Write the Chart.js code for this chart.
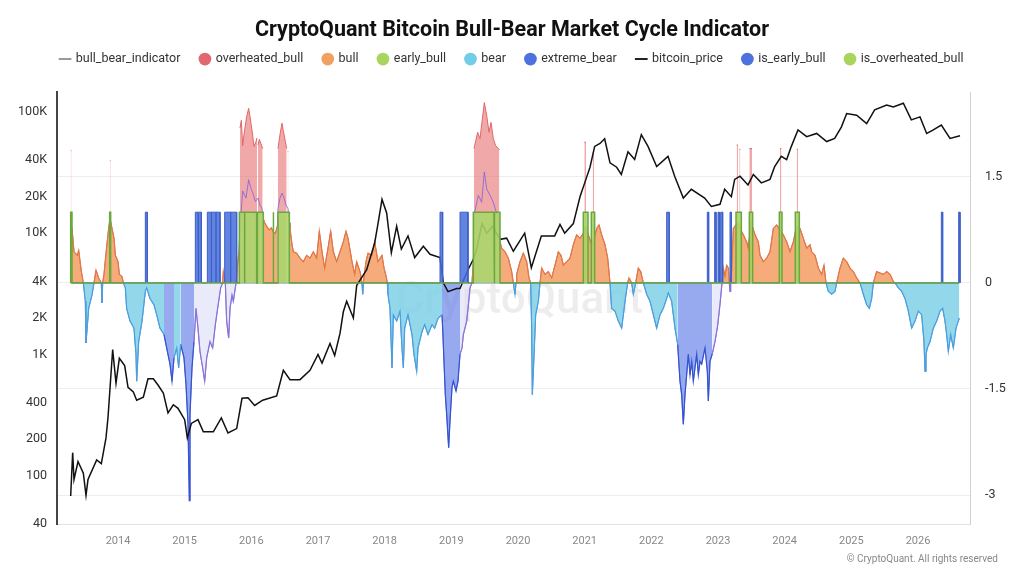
<!DOCTYPE html>
<html>
<head>
<meta charset="utf-8">
<script src="https://cdn.jsdelivr.net/npm/chart.js@4.4.0/dist/chart.umd.min.js"></script>
<style>
html,body{margin:0;padding:0;background:#fff;}
#wrap{width:1024px;height:576px;position:relative;}
</style>
</head>
<body>
<div id="wrap"><canvas id="c" width="1024" height="576"></canvas></div>
<script>
// ---------------- DATA ----------------
const titleText = 'CryptoQuant Bitcoin Bull-Bear Market Cycle Indicator';
const yearTicks = [2014,2015,2016,2017,2018,2019,2020,2021,2022,2023,2024,2025,2026];
const priceTicks = [40,100,200,400,1000,2000,4000,10000,20000,40000,100000];
const priceTickLabels = ['40','100','200','400','1K','2K','4K','10K','20K','40K','100K'];
const indicatorTicks = [-3,-1.5,0,1.5];

// bitcoin price (left, log axis)
const priceYears = [2013.29,2013.32,2013.34,2013.40,2013.48,2013.52,2013.55,2013.68,2013.75,2013.82,
  2013.85,2013.92,2013.97,2014.02,2014.10,2014.15,2014.23,2014.28,2014.38,2014.45,
  2014.53,2014.60,2014.68,2014.75,2014.83,2014.90,2015.00,2015.04,2015.10,2015.20,
  2015.28,2015.43,2015.55,2015.65,2015.78,2015.86,2015.95,2016.05,2016.17,2016.38,
  2016.48,2016.58,2016.73,2016.88,2017.00,2017.06,2017.18,2017.25,2017.33,2017.38,
  2017.43,2017.53,2017.58,2017.73,2017.85,2017.90,2017.96,2018.03,2018.10,2018.18,
  2018.25,2018.35,2018.45,2018.58,2018.68,2018.83,2018.88,2018.95,2019.08,2019.13,
  2019.25,2019.33,2019.38,2019.46,2019.53,2019.62,2019.73,2019.83,2019.93,2020.10,
  2020.20,2020.35,2020.55,2020.63,2020.70,2020.83,2020.93,2021.03,2021.08,2021.15,
  2021.23,2021.30,2021.38,2021.48,2021.55,2021.65,2021.75,2021.85,2021.95,2022.08,
  2022.25,2022.35,2022.48,2022.60,2022.80,2022.90,2023.03,2023.10,2023.20,2023.25,
  2023.33,2023.45,2023.53,2023.65,2023.78,2023.85,2023.95,2024.03,2024.10,2024.20,
  2024.33,2024.48,2024.63,2024.75,2024.85,2024.93,2025.08,2025.23,2025.35,2025.53,
  2025.63,2025.78,2025.90,2026.03,2026.13,2026.23,2026.35,2026.48,2026.63];
const priceValues = [68,155,93,131,105,69,93,135,126,205,
  302,1100,580,930,810,535,490,420,445,630,
  630,560,480,330,385,360,290,205,270,290,
  230,230,300,225,245,435,440,380,420,455,
  740,620,620,740,1000,850,1230,980,1490,2250,
  2750,2000,3700,5000,8300,12000,19000,14700,6900,11400,
  7400,9500,6300,7800,6700,6300,3900,3300,3500,3500,
  5000,6100,7400,12000,10000,11400,8900,9100,7100,10000,
  5200,9500,9500,11800,10000,12000,20000,29000,35000,52000,
  55000,60000,38000,35000,30500,47000,40500,65000,52000,35500,
  43000,29500,19500,23000,19500,16600,17300,23000,20000,27800,
  29500,25000,30500,26000,27800,35500,43000,40500,52000,71000,
  62500,66500,57000,60500,75000,97000,94000,80000,104000,114000,
  110000,118000,86000,91000,66500,71000,78000,60500,63500];

// bull-bear indicator (right axis)
const indYears = [2013.29,2013.31,2013.34,2013.39,2013.41,2013.45,2013.48,2013.51,2013.52,2013.56,
  2013.61,2013.64,2013.67,2013.71,2013.75,2013.76,2013.77,2013.79,2013.82,2013.86,
  2013.88,2013.91,2013.94,2013.96,2014.00,2014.02,2014.06,2014.08,2014.11,2014.13,
  2014.18,2014.24,2014.27,2014.28,2014.31,2014.36,2014.41,2014.43,2014.48,2014.54,
  2014.58,2014.63,2014.69,2014.73,2014.78,2014.81,2014.84,2014.88,2014.91,2014.94,
  2014.99,2015.02,2015.05,2015.07,2015.08,2015.11,2015.14,2015.17,2015.20,2015.23,
  2015.27,2015.30,2015.33,2015.38,2015.42,2015.46,2015.51,2015.54,2015.57,2015.58,
  2015.61,2015.63,2015.66,2015.68,2015.71,2015.73,2015.77,2015.81,2015.84,2015.87,
  2015.92,2015.96,2015.99,2016.03,2016.06,2016.10,2016.13,2016.16,2016.18,2016.20,
  2016.23,2016.27,2016.30,2016.33,2016.36,2016.39,2016.40,2016.43,2016.46,2016.49,
  2016.52,2016.55,2016.57,2016.58,2016.61,2016.63,2016.68,2016.73,2016.78,2016.83,
  2016.88,2016.93,2016.98,2017.02,2017.06,2017.10,2017.15,2017.19,2017.23,2017.28,
  2017.33,2017.38,2017.42,2017.45,2017.51,2017.55,2017.58,2017.63,2017.66,2017.67,
  2017.68,2017.72,2017.75,2017.81,2017.85,2017.90,2017.96,2017.99,2018.02,2018.04,
  2018.05,2018.08,2018.11,2018.13,2018.18,2018.23,2018.26,2018.28,2018.30,2018.35,
  2018.41,2018.44,2018.48,2018.50,2018.56,2018.60,2018.65,2018.71,2018.75,2018.80,
  2018.86,2018.87,2018.91,2018.93,2018.96,2018.98,2019.01,2019.03,2019.07,2019.10,
  2019.13,2019.16,2019.18,2019.23,2019.25,2019.28,2019.31,2019.33,2019.35,2019.405,
  2019.455,2019.495,2019.53,2019.58,2019.63,2019.68,2019.715,2019.73,2019.755,2019.805,
  2019.855,2019.905,2019.93,2019.955,2019.97,2019.98,2020.03,2020.08,2020.13,2020.165,
  2020.19,2020.205,2020.215,2020.245,2020.265,2020.305,2020.33,2020.355,2020.405,2020.455,
  2020.505,2020.555,2020.605,2020.645,2020.68,2020.73,2020.78,2020.83,2020.88,2020.93,
  2020.98,2021.015,2021.055,2021.105,2021.135,2021.18,2021.215,2021.255,2021.305,2021.345,
  2021.38,2021.405,2021.455,2021.505,2021.555,2021.605,2021.645,2021.665,2021.705,2021.73,
  2021.765,2021.805,2021.84,2021.88,2021.93,2021.98,2022.03,2022.08,2022.13,2022.18,
  2022.23,2022.255,2022.305,2022.355,2022.395,2022.43,2022.455,2022.48,2022.505,2022.53,
  2022.555,2022.58,2022.605,2022.63,2022.655,2022.68,2022.705,2022.73,2022.755,2022.805,
  2022.84,2022.855,2022.88,2022.915,2022.955,2022.995,2023.03,2023.06,2023.08,2023.105,
  2023.13,2023.155,2023.17,2023.18,2023.19,2023.205,2023.23,2023.27,2023.305,2023.33,
  2023.38,2023.43,2023.455,2023.495,2023.555,2023.605,2023.63,2023.68,2023.73,2023.78,
  2023.83,2023.88,2023.93,2023.98,2024.03,2024.08,2024.13,2024.17,2024.205,2024.23,
  2024.28,2024.33,2024.38,2024.405,2024.455,2024.505,2024.555,2024.59,2024.62,2024.655,
  2024.705,2024.755,2024.78,2024.83,2024.88,2024.93,2024.98,2025.03,2025.08,2025.13,
  2025.18,2025.23,2025.27,2025.305,2025.33,2025.38,2025.43,2025.48,2025.53,2025.58,
  2025.63,2025.655,2025.705,2025.755,2025.805,2025.855,2025.905,2025.955,2026.005,2026.055,
  2026.09,2026.105,2026.12,2026.14,2026.18,2026.23,2026.28,2026.33,2026.37,2026.405,
  2026.43,2026.455,2026.49,2026.53,2026.57,2026.605,2026.62];
const indValues = [0.85,0.77,0.44,0.39,0.46,0.16,0.00,-0.26,-0.85,-0.36,
  -0.17,0.00,0.18,0.07,0.00,-0.28,0.00,0.12,0.42,0.77,
  0.91,0.77,0.63,0.39,0.30,0.12,0.09,0.00,-0.07,-0.36,
  -0.54,-0.64,-1.01,-1.39,-0.83,-0.54,-0.12,-0.07,-0.22,-0.31,
  -0.45,-0.64,-0.73,-0.92,-1.15,-1.39,-1.06,-0.92,-1.20,-0.87,
  -1.06,-1.44,-2.00,-3.08,-1.86,-1.20,-0.83,-0.36,-0.64,-0.97,
  -1.20,-1.39,-1.06,-0.83,-0.92,-0.59,-0.26,-0.07,0.00,0.16,
  0.00,-0.54,-0.78,-0.36,-0.17,-0.26,0.00,0.42,0.90,1.30,
  1.20,1.46,1.35,1.25,1.15,1.20,1.10,1.05,0.90,0.85,
  0.80,0.75,0.78,0.72,0.70,0.80,1.05,1.20,1.27,1.20,
  1.10,1.05,0.85,0.77,0.54,0.44,0.42,0.35,0.30,0.39,
  0.35,0.44,0.35,0.73,0.44,0.21,0.49,0.73,0.44,0.30,
  0.44,0.58,0.73,0.63,0.30,0.12,0.30,0.16,0.00,-0.16,
  0.00,0.30,0.42,0.39,0.58,0.30,0.39,0.21,0.10,0.00,
  -0.16,-0.36,-1.20,-0.45,-0.54,-0.40,-0.92,-1.20,-0.64,-0.45,
  -0.73,-1.01,-1.25,-0.92,-0.69,-0.59,-0.73,-0.59,-0.64,-0.50,
  -0.45,-0.64,-1.58,-1.86,-2.33,-1.95,-1.48,-1.39,-1.53,-1.39,
  -1.01,-0.92,-0.73,-0.54,-0.36,-0.07,0.00,0.30,1.00,1.24,
  1.14,1.57,1.33,1.24,1.14,0.98,0.90,0.58,0.49,0.44,
  0.35,0.16,0.00,-0.16,0.00,0.12,0.30,0.42,0.30,0.07,
  0.00,-0.64,-1.58,-0.92,-0.45,-0.26,0.00,0.21,0.12,0.16,
  0.07,0.25,0.44,0.39,0.25,0.30,0.35,0.54,0.68,0.63,
  0.70,0.80,0.68,0.54,0.60,0.77,0.82,0.68,0.54,0.35,
  0.00,-0.36,-0.40,-0.54,-0.64,-0.26,0.00,0.07,0.00,-0.16,
  0.00,0.21,0.16,0.00,-0.16,-0.26,-0.45,-0.64,-0.45,-0.36,
  -0.22,-0.14,-0.26,-0.64,-0.87,-1.39,-1.58,-2.00,-1.58,-1.30,
  -1.01,-1.30,-1.11,-1.39,-1.20,-1.01,-1.30,-1.11,-1.15,-0.92,
  -1.25,-1.67,-1.11,-1.00,-0.83,-0.60,-0.30,0.00,0.21,0.09,
  0.25,0.21,0.00,-0.12,0.00,0.16,0.77,0.82,0.85,0.77,
  0.68,0.58,0.49,0.86,0.68,0.58,0.39,0.30,0.35,0.44,
  0.77,0.82,0.75,0.68,0.58,0.44,0.58,0.77,0.80,0.77,
  0.63,0.49,0.54,0.44,0.39,0.21,0.12,0.25,0.00,-0.12,
  -0.16,-0.12,0.00,0.21,0.35,0.30,0.21,0.16,0.07,0.00,
  -0.16,-0.31,-0.36,-0.22,0.00,0.16,0.14,0.12,0.16,0.12,
  0.02,0.00,-0.07,-0.12,-0.22,-0.40,-0.64,-0.54,-0.40,-0.45,
  -0.83,-1.25,-1.01,-0.92,-0.83,-0.64,-0.54,-0.40,-0.36,-0.54,
  -0.73,-0.97,-0.73,-0.92,-0.64,-0.54,-0.50];

// regime changes: [start year, regime]  b=bull, o=overheated, r=bear, x=extreme bear, p=early bull
const regimeStarts = [[2013.0,'b'],[2013.50,'r'],[2013.65,'b'],[2013.755,'r'],[2013.765,'b'],
  [2014.10,'r'],[2014.72,'x'],[2014.86,'r'],[2014.97,'x'],[2015.16,'p'],[2015.565,'b'],
  [2015.60,'p'],[2015.76,'b'],[2015.835,'o'],[2016.17,'b'],[2016.395,'o'],[2016.565,'b'],
  [2017.665,'r'],[2017.675,'b'],[2018.045,'r'],[2018.865,'x'],[2019.15,'p'],[2019.30,'b'],
  [2019.345,'o'],[2019.72,'b'],[2019.95,'r'],[2019.965,'b'],[2020.20,'r'],[2020.34,'b'],
  [2021.39,'r'],[2021.66,'b'],[2021.72,'r'],[2021.76,'b'],[2021.90,'r'],[2022.42,'x'],
  [2022.94,'p'],[2023.05,'b'],[2023.175,'p'],[2023.185,'b'],[2024.63,'r'],[2024.79,'b'],
  [2025.14,'r'],[2025.34,'b'],[2025.66,'r']];

// overheated_bull area (null separates blocks)
const ovhYears = [2013.292,2013.302,2013.302, 2013.878,2013.888,2013.888,
  2015.83,2015.85,2015.87,2015.90,2015.93,2015.96,2015.98,2016.01,2016.04,2016.07,2016.085,2016.085,
  2016.10,2016.12,2016.14,2016.17,2016.17, 2016.325,2016.335,2016.335,
  2016.40,2016.43,2016.46,2016.48,2016.51,2016.53,2016.53, 2016.545,2016.555,2016.555,
  2019.34,2019.395,2019.43,2019.465,2019.495,2019.53,2019.565,2019.595,2019.63,2019.665,2019.705,2019.72,2019.72,
  2020.995,2021.02,2021.02, 2021.12,2021.14,2021.14,
  2023.28,2023.30,2023.30, 2023.32,2023.335,2023.335, 2023.47,2023.51,2023.51,
  2023.93,2023.95,2023.95, 2024.18,2024.20];
const ovhValues = [1.87,1.87,null, 1.73,1.73,null,
  2.19,2.30,1.94,2.17,2.35,2.47,2.35,2.16,1.93,2.00,2.05,null,
  1.95,2.03,1.98,1.90,null, 1.60,1.60,null,
  1.90,2.10,2.26,2.15,2.00,1.90,null, 1.86,1.86,null,
  1.90,2.13,2.04,2.32,2.55,2.37,2.13,2.27,2.04,1.94,1.90,1.88,null,
  1.99,1.99,null, 1.84,1.84,null,
  1.95,1.95,null, 1.89,1.89,null, 1.90,1.90,null,
  1.90,1.90,null, 1.89,1.89];

// flag periods (value 1 inside)
const earlyBullFlags = [[2014.41,2014.44],[2015.16,2015.20],[2015.21,2015.25],[2015.34,2015.40],
  [2015.40,2015.47],[2015.47,2015.53],[2015.60,2015.69],[2015.69,2015.78],[2018.83,2018.87],
  [2019.13,2019.25],[2022.23,2022.27],[2022.84,2022.86],[2022.95,2022.97],[2023.00,2023.02],
  [2023.04,2023.07],[2023.18,2023.20],[2026.35,2026.37],[2026.61,2026.63]];
const overheatedFlags = [[2013.29,2013.31],[2013.875,2013.89],[2015.82,2015.90],[2015.90,2016.08],
  [2016.09,2016.18],[2016.325,2016.335],[2016.40,2016.57],[2019.33,2019.64],[2019.65,2019.73],
  [2020.98,2021.05],[2021.10,2021.15],[2023.27,2023.35],[2023.47,2023.52],[2023.92,2023.96],
  [2024.16,2024.22]];

// ---------------- BUILD ----------------
const xMin = 2013.085, xMax = 2026.78;
function regimeAt(y){ let c = 'b'; for (const [s, code] of regimeStarts){ if (y >= s) c = code; else break; } return c; }
const regimeCodes = indYears.map(regimeAt);
const NEG = {r:1, x:1, p:1};
function regimeSeries(code){
  return indYears.map((x, i) => {
    const c = regimeCodes[i], v = indValues[i];
    let use = c === code;
    if (!use && v === 0 && (regimeCodes[i-1] === code || regimeCodes[i+1] === code)) use = true;
    if (!use && NEG[code] && NEG[c] && regimeCodes[i+1] === code) use = true;
    return {x, y: use ? v : null};
  });
}
function flagSeries(periods){
  const first = Math.min(indYears[0], periods[0][0]);
  const last = Math.max(indYears[indYears.length-1], periods[periods.length-1][1]);
  const pts = [{x: first, y: 0}];
  periods.forEach(([s, e]) => { pts.push({x:s,y:0},{x:s,y:1},{x:e,y:1},{x:e,y:0}); });
  pts.push({x: last, y: 0});
  return pts;
}
const indicatorData = indYears.map((x, i) => ({x, y: indValues[i]}));
const ovhData = ovhYears.map((x, i) => ({x, y: ovhValues[i]}));
const priceData = priceYears.map((x, i) => ({x, y: priceValues[i]}));

const FONT = 'Roboto';
const base = {pointRadius: 0, pointHoverRadius: 0, spanGaps: false, tension: 0, yAxisID: 'yR'};

const datasets = [
  Object.assign({}, base, {label:'bull_bear_indicator', data: indicatorData, borderColor:'rgba(135,105,215,0.9)', borderWidth:1, fill:false, order:11, legendColor:'#9a9a9a', legendLine:true}),
  Object.assign({}, base, {label:'overheated_bull', data: ovhData, borderColor:'#e06767', backgroundColor:'rgba(232,110,112,0.6)', borderWidth:1, fill:'origin', order:12, legendColor:'#e0686f'}),
  Object.assign({}, base, {label:'bull', data: regimeSeries('b'), borderColor:'#e8773d', backgroundColor:'rgba(242,140,70,0.72)', borderWidth:1.2, fill:'origin', order:10, legendColor:'#f0a060'}),
  Object.assign({}, base, {label:'early_bull', data: regimeSeries('p'), borderColor:'#8a72d8', backgroundColor:'rgba(215,218,245,0.55)', borderWidth:1.2, fill:'origin', order:10, legendColor:'#a9d55e'}),
  Object.assign({}, base, {label:'bear', data: regimeSeries('r'), borderColor:'#45a2de', backgroundColor:'rgba(120,205,230,0.8)', borderWidth:1.2, fill:'origin', order:10, legendColor:'#72cde6'}),
  Object.assign({}, base, {label:'extreme_bear', data: regimeSeries('x'), borderColor:'#3154d0', backgroundColor:'rgba(95,125,230,0.65)', borderWidth:1.2, fill:'origin', order:10, legendColor:'#4d72dd'}),
  Object.assign({}, base, {label:'bitcoin_price', data: priceData, yAxisID:'yL', borderColor:'#111111', borderWidth:1.5, fill:false, order:7, legendColor:'#222222', legendLine:true}),
  Object.assign({}, base, {label:'is_early_bull', data: flagSeries(earlyBullFlags), borderColor:'#3d5fc9', backgroundColor:'rgba(70,110,220,0.85)', borderWidth:1, fill:'origin', order:6, legendColor:'#4d72dd'}),
  Object.assign({}, base, {label:'is_overheated_bull', data: flagSeries(overheatedFlags), borderColor:'#6aa83e', backgroundColor:'rgba(170,215,105,0.88)', borderWidth:1.5, fill:'origin', order:5, legendColor:'#a9d55e'})
];

const decor = {
  id: 'decor',
  beforeDatasetsDraw(chart){
    const ctx = chart.ctx, a = chart.chartArea;
    ctx.save();
    ctx.font = '500 44px ' + FONT;
    ctx.fillStyle = 'rgba(0,0,0,0.07)';
    ctx.textAlign = 'center'; ctx.textBaseline = 'middle';
    ctx.fillText('CryptoQuant', (a.left + a.right) / 2 + 6, a.top + (a.bottom - a.top) * 0.485);
    ctx.restore();
  },
  afterDraw(chart){
    const ctx = chart.ctx;
    ctx.save();
    ctx.font = '10px ' + FONT;
    ctx.fillStyle = '#888';
    ctx.textAlign = 'right'; ctx.textBaseline = 'middle';
    ctx.fillText('\u00A9 CryptoQuant. All rights reserved', chart.width - 26, chart.height - 17);
    ctx.restore();
  }
};

new Chart(document.getElementById('c'), {
  type: 'line',
  data: {datasets},
  plugins: [decor],
  options: {
    responsive: false,
    animation: false,
    events: [],
    layout: {padding: {left: 0, right: 0, top: 0, bottom: 0}},
    plugins: {
      tooltip: {enabled: false},
      title: {display: true, text: titleText, color: '#111', font: {family: FONT, size: 21.5, weight: 'bold'}, padding: {top: 18, bottom: -11}},
      subtitle: {display: true, text: ' ', weight: 500, font: {size: 1}, padding: {top: 0, bottom: 15.5}},
      legend: {
        display: true,
        labels: {
          usePointStyle: true, boxWidth: 9, boxHeight: 9, padding: 20, color: '#333',
          font: {family: FONT, size: 12.5},
          generateLabels(chart){
            return chart.data.datasets.map((ds, i) => ({
              text: ds.label, datasetIndex: i, hidden: false,
              fillStyle: ds.legendColor, strokeStyle: ds.legendColor,
              lineWidth: ds.legendLine ? 2 : 0,
              pointStyle: ds.legendLine ? 'line' : 'circle',
              fontColor: '#333'
            }));
          }
        }
      }
    },
    scales: {
      x: {
        type: 'linear', min: xMin, max: xMax,
        afterBuildTicks: a => { a.ticks = yearTicks.map(v => ({value: v})); },
        afterFit: s => { s.height = 52; },
        ticks: {callback: v => String(v), color: '#888', font: {family: FONT, size: 11}, padding: 11, autoSkip: false, maxRotation: 0},
        grid: {display: false, drawTicks: false},
        border: {display: true, color: '#e2e2e2'}
      },
      yL: {
        type: 'logarithmic', position: 'left', min: 40, max: 146000,
        afterBuildTicks: a => { a.ticks = priceTicks.map(v => ({value: v})); },
        afterFit: s => { s.width = 57; },
        ticks: {callback: v => priceTickLabels[priceTicks.indexOf(v)], color: '#333', font: {family: FONT, size: 12.5}, padding: 10, autoSkip: false},
        grid: {display: false, drawTicks: false},
        border: {display: true, color: '#444', width: 2}
      },
      yR: {
        type: 'linear', position: 'right', min: -3.41, max: 2.70,
        afterBuildTicks: a => { a.ticks = indicatorTicks.map(v => ({value: v})); },
        afterFit: s => { s.width = 54; },
        ticks: {callback: v => String(v), color: '#333', font: {family: FONT, size: 12.5}, padding: 15, autoSkip: false},
        grid: {color: '#eeeeee', drawTicks: false},
        border: {display: true, color: '#d0d0d0'}
      }
    }
  }
});
</script>
</body>
</html>
